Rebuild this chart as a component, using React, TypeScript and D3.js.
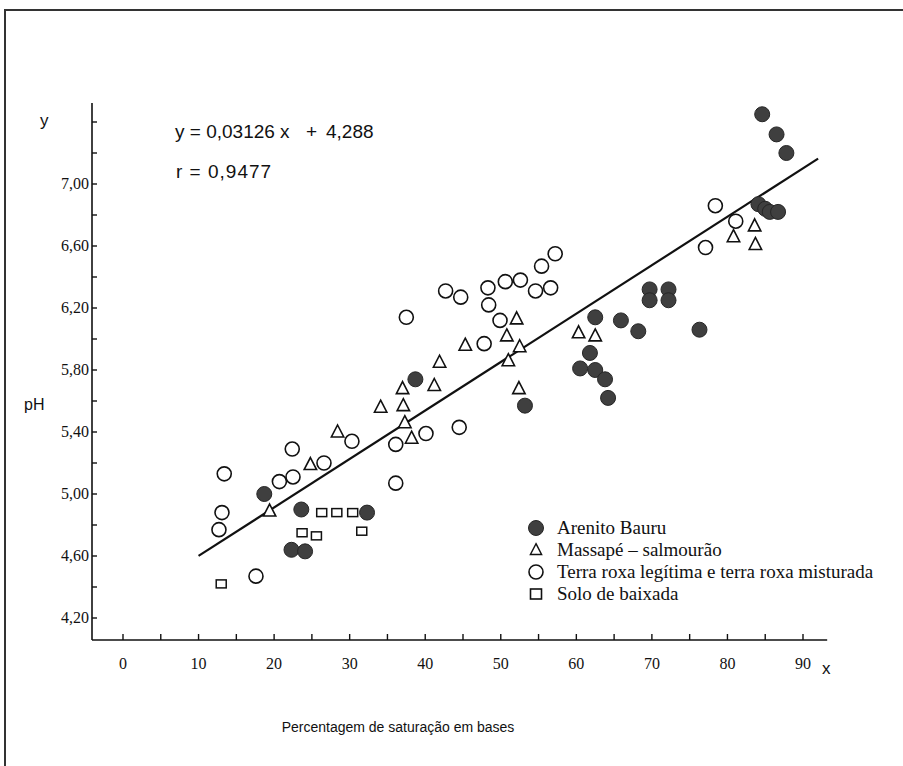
import React from 'react';
import * as d3 from 'd3';

// Arenito Bauru (filled circles)
const bauru: [number, number][] = [
  [18.7, 5.0], [23.6, 4.9], [22.3, 4.64], [24.1, 4.63], [32.3, 4.88], [38.7, 5.74],
  [53.2, 5.57], [62.5, 6.14], [65.9, 6.12], [68.2, 6.05], [76.3, 6.06],
  [69.7, 6.32], [69.7, 6.25], [72.2, 6.32], [72.2, 6.25],
  [61.8, 5.91], [60.5, 5.81], [62.5, 5.8], [63.8, 5.74], [64.2, 5.62],
  [84.6, 7.45], [86.5, 7.32], [87.8, 7.2],
  [84.1, 6.87], [85.0, 6.84], [85.6, 6.82], [86.7, 6.82],
];

// Massapé – salmourão (triangles)
const massape: [number, number][] = [
  [19.4, 4.89], [24.8, 5.19], [28.4, 5.4], [34.1, 5.56], [37.1, 5.57], [37.0, 5.68],
  [37.3, 5.46], [38.2, 5.36], [41.2, 5.7], [41.9, 5.85], [45.3, 5.96], [50.8, 6.02],
  [52.1, 6.13], [51.0, 5.86], [52.5, 5.95], [52.4, 5.68], [60.3, 6.04], [62.5, 6.02],
  [80.8, 6.66], [83.6, 6.73], [83.7, 6.61],
];

// Terra roxa legítima e terra roxa misturada (open circles)
const terraRoxa: [number, number][] = [
  [13.4, 5.13], [13.1, 4.88], [12.7, 4.77], [17.6, 4.47], [20.7, 5.08], [22.5, 5.11],
  [22.4, 5.29], [26.6, 5.2], [30.3, 5.34], [36.1, 5.07], [36.1, 5.32], [40.1, 5.39],
  [37.5, 6.14], [42.7, 6.31], [44.7, 6.27], [48.3, 6.33], [50.6, 6.37], [52.6, 6.38],
  [55.4, 6.47], [57.2, 6.55], [54.6, 6.31], [56.6, 6.33], [48.4, 6.22], [49.9, 6.12],
  [47.8, 5.97], [44.5, 5.43], [78.4, 6.86], [81.1, 6.76], [77.1, 6.59],
];

// Solo de baixada (squares)
const baixada: [number, number][] = [
  [13.0, 4.42], [26.3, 4.88], [28.3, 4.88], [30.4, 4.88], [23.7, 4.75], [25.6, 4.73], [31.6, 4.76],
];

const slope = 0.03126;
const intercept = 4.288;
const lineRange = [10, 92];

const xTickValues = [0, 5, 10, 15, 20, 25, 30, 35, 40, 45, 50, 55, 60, 65, 70, 75, 80, 85, 90];
const xLabelValues = [0, 10, 20, 30, 40, 50, 60, 70, 80, 90];
const yTickValues = [4.2, 4.4, 4.6, 4.8, 5.0, 5.2, 5.4, 5.6, 5.8, 6.0, 6.2, 6.4, 6.6, 6.8, 7.0, 7.2, 7.4];
const yLabelValues = [4.2, 4.6, 5.0, 5.4, 5.8, 6.2, 6.6, 7.0];

const legendItems = [
  { key: 'bauru', label: 'Arenito Bauru' },
  { key: 'massape', label: 'Massapé – salmourão' },
  { key: 'roxa', label: 'Terra roxa legítima e terra roxa misturada' },
  { key: 'baixada', label: 'Solo de baixada' },
];

const W = 903;
const H = 766;

const x = d3.scaleLinear().domain([0, 90]).range([123, 803]);
const y = d3.scaleLinear().domain([4.2, 7.0]).range([618, 184]);

const axisLeftX = 92;
const axisBottomY = 640;
const axisTopY = 103;
const axisRightX = x(93.2);

const serif = '"Liberation Serif", "Times New Roman", serif';
const sans = '"Liberation Sans", Arial, sans-serif';

const fmt = (v: number) => d3.format('.2f')(v).replace('.', ',');

const tri = 'M0,-7L6.2,5L-6.2,5Z';

const Marker = ({ kind, cx, cy, small }: { kind: string; cx: number; cy: number; small?: boolean }) => {
  if (kind === 'bauru')
    return <circle cx={cx} cy={cy} r={7.5} fill="#3f3f3f" stroke="#262626" strokeWidth={1} />;
  if (kind === 'roxa')
    return <circle cx={cx} cy={cy} r={7} fill="#fff" stroke="#111" strokeWidth={1.6} />;
  if (kind === 'massape')
    return <path d={tri} transform={`translate(${cx},${cy})${small ? ' scale(0.9)' : ''}`} fill="#fff" stroke="#111" strokeWidth={1.6} />;
  return small
    ? <rect x={cx - 5.5} y={cy - 5} width={11} height={10} fill="#fff" stroke="#111" strokeWidth={1.6} />
    : <rect x={cx - 5} y={cy - 4} width={10} height={8} fill="#fff" stroke="#111" strokeWidth={1.5} />;
};

export default function App() {
  const lineData: [number, number][] = lineRange.map(v => [v, slope * v + intercept]);
  const linePath = d3.line<[number, number]>().x(d => x(d[0])).y(d => y(d[1]))(lineData) || '';

  return (
    <svg width={W} height={H} style={{ position: 'absolute', left: 0, top: 0, background: '#fff' }}>
      {/* frame */}
      <path d={`M5,${H}L5,10L${W},10`} fill="none" stroke="#333" strokeWidth={2} />

      {/* axes */}
      <line x1={axisLeftX} y1={axisTopY} x2={axisLeftX} y2={axisBottomY} stroke="#111" strokeWidth={1.6} />
      <line x1={axisLeftX} y1={axisBottomY} x2={axisRightX} y2={axisBottomY} stroke="#111" strokeWidth={1.6} />

      {xTickValues.map(v => (
        <line key={`xt${v}`} x1={x(v)} x2={x(v)} y1={axisBottomY} y2={axisBottomY - 6} stroke="#111" strokeWidth={1.4} />
      ))}
      {xLabelValues.map(v => (
        <text key={`xl${v}`} x={x(v)} y={axisBottomY + 29} textAnchor="middle" fontFamily={serif} fontSize={16} fill="#111">{v}</text>
      ))}
      {yTickValues.map(v => (
        <line key={`yt${v}`} x1={axisLeftX} x2={axisLeftX + 5} y1={y(v)} y2={y(v)} stroke="#111" strokeWidth={1.4} />
      ))}
      {yLabelValues.map(v => (
        <text key={`yl${v}`} x={axisLeftX - 3} y={y(v) + 5} textAnchor="end" fontFamily={serif} fontSize={16} fill="#111">{fmt(v)}</text>
      ))}

      <text x={40} y={126} fontFamily={sans} fontSize={17} fill="#111">y</text>
      <text x={24} y={410} fontFamily={sans} fontSize={16} fill="#111">pH</text>
      <text x={822} y={674} fontFamily={sans} fontSize={17} fill="#111">x</text>
      <text x={398} y={732} textAnchor="middle" fontFamily={sans} fontSize={14} fill="#111">Percentagem de saturação em bases</text>

      {/* equation */}
      <text x={175} y={138} fontFamily={sans} fontSize={19} fill="#111">y = 0,03126 x</text>
      <text x={306} y={138} fontFamily={sans} fontSize={19} fill="#111">+</text>
      <text x={326} y={138} fontFamily={sans} fontSize={19} fill="#111">4,288</text>
      <text x={176} y={178} fontFamily={sans} fontSize={19} letterSpacing={1} fill="#111">r = 0,9477</text>

      {/* regression line */}
      <path d={linePath} fill="none" stroke="#111" strokeWidth={2.2} />

      {/* points */}
      {baixada.map((d, i) => <Marker key={`s${i}`} kind="baixada" cx={x(d[0])} cy={y(d[1])} />)}
      {terraRoxa.map((d, i) => <Marker key={`o${i}`} kind="roxa" cx={x(d[0])} cy={y(d[1])} />)}
      {massape.map((d, i) => <Marker key={`t${i}`} kind="massape" cx={x(d[0])} cy={y(d[1])} />)}
      {bauru.map((d, i) => <Marker key={`f${i}`} kind="bauru" cx={x(d[0])} cy={y(d[1])} />)}

      {/* legend */}
      {legendItems.map((item, i) => (
        <g key={item.key} transform={`translate(0,${528 + i * 22})`}>
          <Marker kind={item.key} cx={536} cy={0} small />
          <text x={557} y={6} fontFamily={serif} fontSize={19} fill="#111">{item.label}</text>
        </g>
      ))}
    </svg>
  );
}
